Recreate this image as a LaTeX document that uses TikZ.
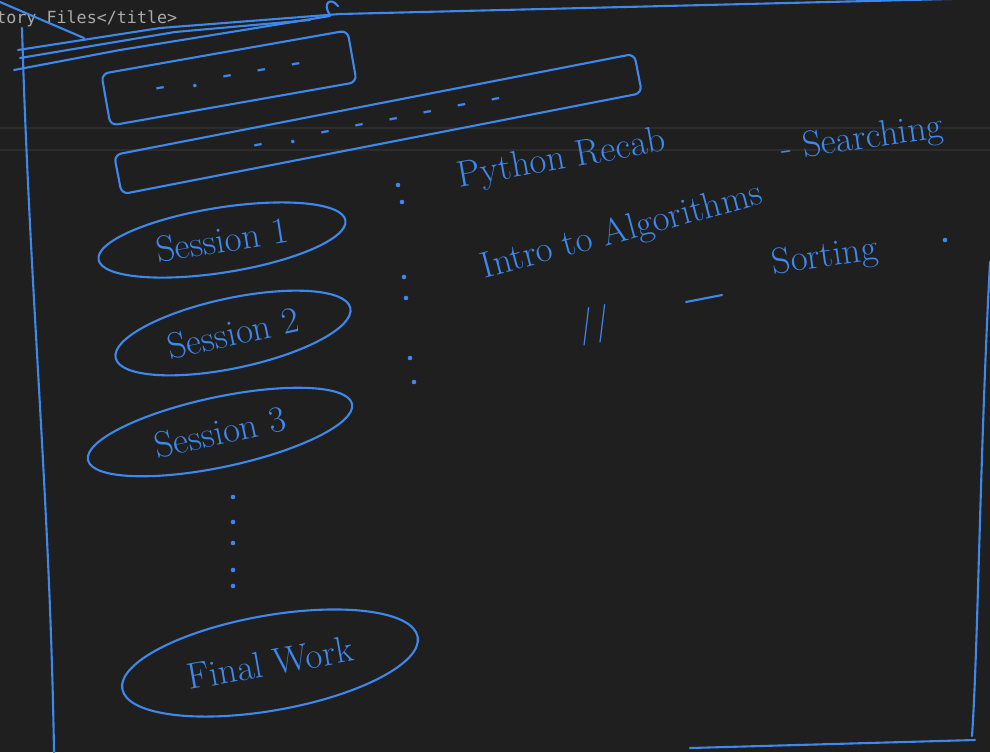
\documentclass[tikz,border=0pt]{standalone}
\usepackage{fontspec}
\setmonofont{DejaVu Sans Mono}
\usetikzlibrary{shapes.geometric}

\definecolor{bgdark}{RGB}{31,31,31}
\definecolor{ink}{RGB}{62,135,235}
\definecolor{codegray}{RGB}{170,170,170}
\definecolor{rulegray}{RGB}{44,44,44}

\tikzset{
	pen/.style={draw=ink, line width=1.2pt, line cap=round, line join=round},
	hand/.style={text=ink, font=\fontsize{21}{24}\selectfont, inner sep=1pt},
	topic/.style={ellipse, pen, hand, inner sep=0pt},
	bar/.style={rectangle, rounded corners=4pt, pen, text=ink, font=\bfseries\Large},
}

\begin{document}
\begin{tikzpicture}[x=0.02cm, y=-0.02cm]
	% background and editor
	\fill[bgdark] (0,0) rectangle (990,752);
	\useasboundingbox (0,0) rectangle (990,752);
	\draw[rulegray, line width=0.6pt] (0,128) -- (990,128);
	\draw[rulegray, line width=0.6pt] (0,150) -- (990,150);
	\node[anchor=west, text=codegray, font=\ttfamily\fontsize{9.5}{11}\selectfont, inner sep=0pt] (title) at (-4,19) {tory Files</title>};

	% page frame
	\draw[pen] (0,2) -- (84,38);
	\draw[pen] (22,28) .. controls (30,300) and (50,500) .. (54,752);
	\draw[pen] (14,70) -- (120,50) -- (330,16);
	\draw[pen] (18,50) -- (160,28) -- (340,14) -- (990,-2);
	\draw[pen] (20,58) -- (175,32) -- (310,20);
	\draw[pen] (330,15) .. controls (322,4) and (330,-4) .. (338,6);
	\draw[pen] (990,262) .. controls (980,450) and (978,650) .. (972,736);
	\draw[pen] (690,748) -- (975,740);

	% slides
	\node[bar, rotate=10, minimum width=5cm, minimum height=1.05cm] (slide1) at (229,78) {-\quad.\quad-\quad-\quad-};
	\node[bar, rotate=11, minimum width=10.6cm, minimum height=0.8cm] (slide2) at (378,124) {-\quad.\quad-\quad-\quad-\quad-\quad-\quad-};

	% sessions
	\node[topic, rotate=9, minimum width=5cm, minimum height=1.3cm] (s1) at (222,240) {Session 1};
	\node[topic, rotate=12, minimum width=4.8cm, minimum height=1.4cm] (s2) at (233,333) {Session 2};
	\node[topic, rotate=12, minimum width=5.4cm, minimum height=1.4cm] (s3) at (220,432) {Session 3};
	\node[topic, rotate=10, minimum width=6cm, minimum height=1.9cm] (final) at (270,663) {Final Work};

	\foreach \y in {497,522,543,570,586}
		\fill[ink] (233,\y) circle (1.3pt);

	% topics
	\foreach \x/\y in {398/185,402/202,404/277,406/298,410/358,414/382,945/240}
		\fill[ink] (\x,\y) circle (1.3pt);
	\node[hand, rotate=10] (python) at (562,160) {Python Recab};
	\node[hand, rotate=15] (intro) at (622,232) {Intro to Algorithms};
	\node[hand, rotate=8] (search) at (862,140) {- Searching};
	\node[hand, rotate=8] (sorting) at (825,258) {Sorting};
	\node[hand, rotate=12] (ditto) at (595,325) {//};
	\draw[pen] (686,302) -- (722,295);
\end{tikzpicture}
\end{document}
